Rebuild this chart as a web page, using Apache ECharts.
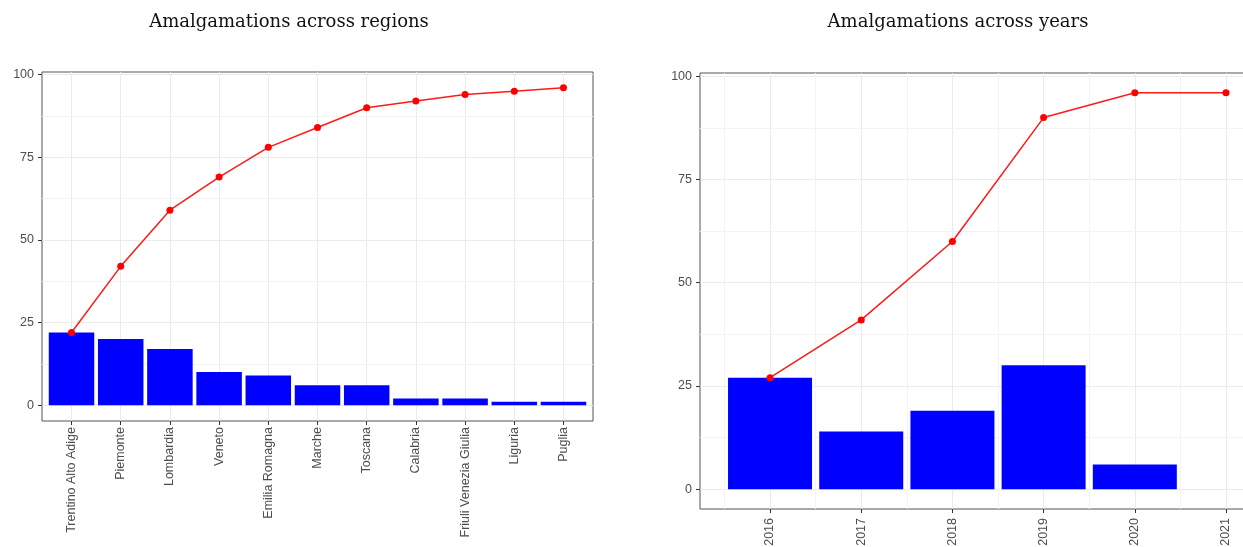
<!DOCTYPE html>
<html>
<head>
<meta charset="utf-8">
<script src="https://cdn.jsdelivr.net/npm/echarts@6/dist/echarts.min.js"></script>
<style>
  html, body { margin: 0; padding: 0; background: #ffffff; }
  #chart { width: 1243px; height: 547px; }
</style>
</head>
<body>
<div id="chart"></div>
<script>
// Amalgamations per region (sorted) and their running total
const regions = ['Trentino Alto Adige', 'Piemonte', 'Lombardia', 'Veneto', 'Emilia Romagna',
  'Marche', 'Toscana', 'Calabria', 'Friuli Venezia Giulia', 'Liguria', 'Puglia'];
const regionCounts = [22, 20, 17, 10, 9, 6, 6, 2, 2, 1, 1];
const regionCumulative = [22, 42, 59, 69, 78, 84, 90, 92, 94, 95, 96];

// Amalgamations per year and their running total
const years = [2016, 2017, 2018, 2019, 2020, 2021];
const yearCounts = [27, 14, 19, 30, 6, 0];
const yearCumulative = [27, 41, 60, 90, 96, 96];

// Tick labels and minor grid positions
const yTicks = [0, 25, 50, 75, 100];
const yMinor = [12.5, 37.5, 62.5, 87.5];
const yearMinor = [2015.5, 2016.5, 2017.5, 2018.5, 2019.5, 2020.5];

const TXT = '#4d4d4d';
const GRID = '#ebebeb';
const MINOR = '#f3f3f3';
const BORDER = '#555555';
const FONT = '"Liberation Sans", Arial, sans-serif';
const FS = 12.5;

const regionIdx = regions.map((_, i) => i + 1);

function yAxis(gridIndex) {
  return {
    type: 'value', gridIndex,
    min: -4.8, max: 100.8, minInterval: 25, maxInterval: 25,
    axisLine: { show: false, onZero: false },
    axisTick: { show: true, length: 4, customValues: yTicks, lineStyle: { color: '#333333', width: 1 } },
    axisLabel: { customValues: yTicks, margin: 8, color: TXT, fontSize: FS, fontFamily: FONT },
    splitLine: { show: true, lineStyle: { color: GRID, width: 1 } }
  };
}

function minorLines(list, key) {
  return {
    silent: true, symbol: 'none', z: 1,
    label: { show: false },
    lineStyle: { color: MINOR, width: 1, type: 'solid' },
    emphasis: { disabled: true },
    data: list.map(v => ({ [key]: v }))
  };
}

const chart = echarts.init(document.getElementById('chart'), null, { renderer: 'canvas' });

chart.setOption({
  animation: false,
  backgroundColor: '#ffffff',
  graphic: [
    { type: 'text', x: 289, y: 22, style: { text: 'Amalgamations across regions', fill: '#111111',
      font: '18px "DejaVu Serif", serif', textAlign: 'center', textVerticalAlign: 'middle' } },
    { type: 'text', x: 958, y: 22, style: { text: 'Amalgamations across years', fill: '#111111',
      font: '18px "DejaVu Serif", serif', textAlign: 'center', textVerticalAlign: 'middle' } }
  ],
  grid: [
    { left: 42, top: 72, width: 551, height: 349, show: true, borderColor: BORDER, borderWidth: 1,
      outerBoundsMode: 'none' },
    { left: 700, top: 73, width: 551, height: 436, show: true, borderColor: BORDER, borderWidth: 1,
      outerBoundsMode: 'none' }
  ],
  xAxis: [
    {
      type: 'value', gridIndex: 0, min: 0.4, max: 11.6, minInterval: 1, maxInterval: 1,
      axisLine: { show: false, onZero: false },
      axisTick: { show: true, length: 4, customValues: regionIdx, lineStyle: { color: '#333333' } },
      axisLabel: { customValues: regionIdx, rotate: 90, margin: 6, color: TXT, fontSize: FS, fontFamily: FONT,
        formatter: v => regions[Math.round(v) - 1] || '' },
      splitLine: { show: true, lineStyle: { color: GRID, width: 1 } }
    },
    {
      type: 'value', gridIndex: 1, min: 2015.232, max: 2021.274, minInterval: 1, maxInterval: 1,
      axisLine: { show: false, onZero: false },
      axisTick: { show: true, length: 4, customValues: years, lineStyle: { color: '#333333' } },
      axisLabel: { customValues: years, rotate: 90, margin: 9, color: TXT, fontSize: FS, fontFamily: FONT,
        formatter: v => String(Math.round(v)) },
      splitLine: { show: true, lineStyle: { color: GRID, width: 1 } }
    }
  ],
  yAxis: [yAxis(0), yAxis(1)],
  series: [
    {
      type: 'bar', xAxisIndex: 0, yAxisIndex: 0, z: 3, barWidth: 45.5,
      itemStyle: { color: '#0000ff' },
      data: regionCounts.map((v, i) => [i + 1, v]),
      markLine: minorLines(yMinor, 'yAxis')
    },
    {
      type: 'line', xAxisIndex: 0, yAxisIndex: 0, z: 4,
      symbol: 'circle', symbolSize: 7, showSymbol: true,
      lineStyle: { color: '#ff1a1a', width: 1.5 },
      itemStyle: { color: '#ff0000' },
      data: regionCumulative.map((v, i) => [i + 1, v])
    },
    {
      type: 'bar', xAxisIndex: 1, yAxisIndex: 1, z: 3, barWidth: 84,
      itemStyle: { color: '#0000ff' },
      data: yearCounts.map((v, i) => [years[i], v]),
      markLine: {
        ...minorLines(yMinor, 'yAxis'),
        data: yMinor.map(v => ({ yAxis: v })).concat(yearMinor.map(v => ({ xAxis: v })))
      }
    },
    {
      type: 'line', xAxisIndex: 1, yAxisIndex: 1, z: 4,
      symbol: 'circle', symbolSize: 7, showSymbol: true,
      lineStyle: { color: '#ff1a1a', width: 1.5 },
      itemStyle: { color: '#ff0000' },
      data: yearCumulative.map((v, i) => [years[i], v])
    }
  ]
});
</script>
</body>
</html>
